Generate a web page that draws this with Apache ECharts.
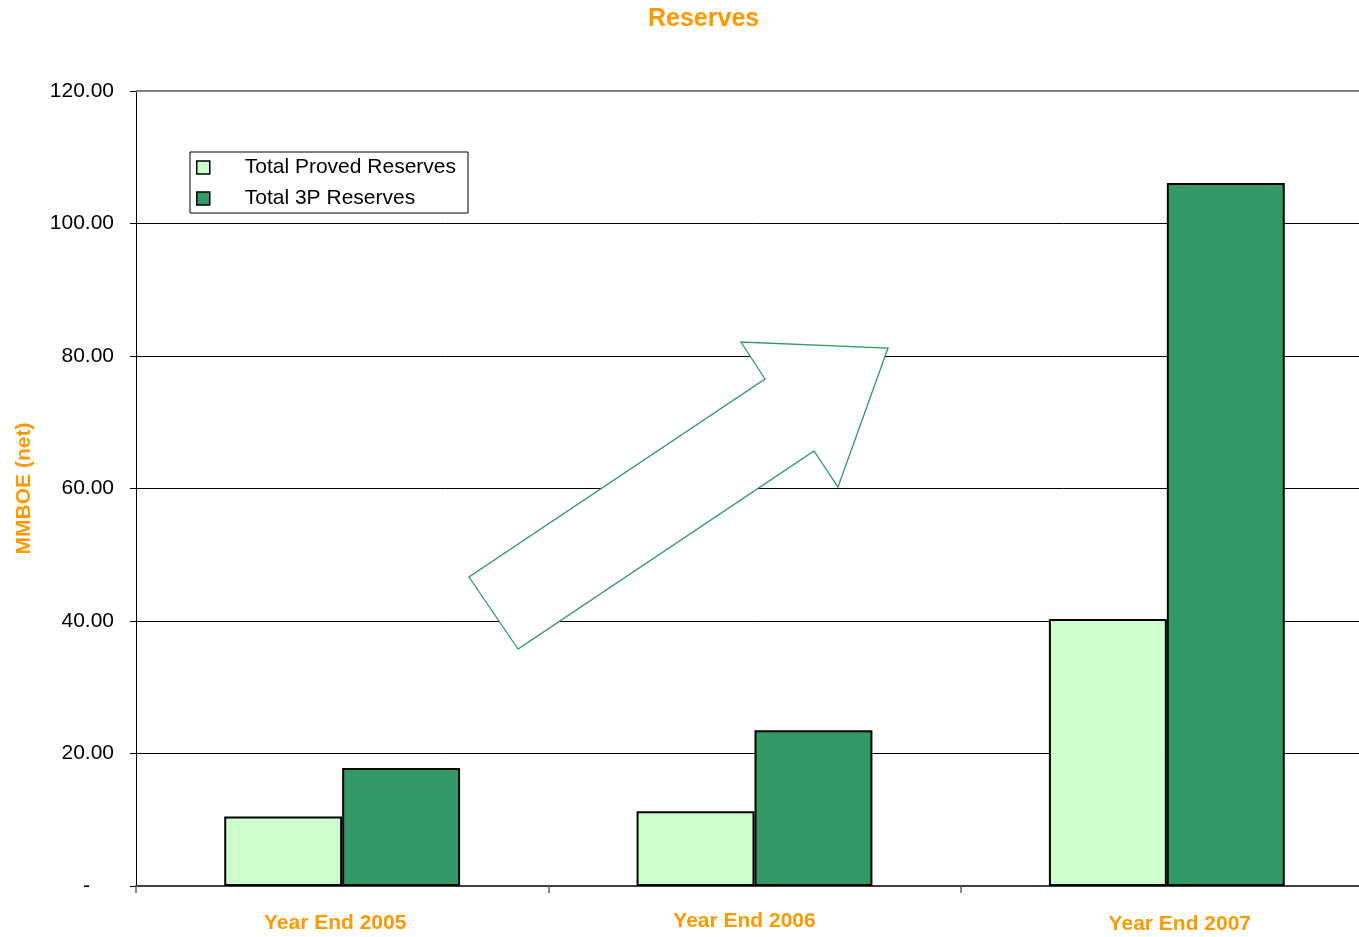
<!DOCTYPE html>
<html>
<head>
<meta charset="utf-8">
<script src="https://cdn.jsdelivr.net/npm/echarts@6/dist/echarts.min.js"></script>
<style>html,body{margin:0;padding:0;background:#fff;overflow:hidden;width:1359px;height:937px;}#c{width:1373px;height:937px;}</style>
</head>
<body>
<div id="c"></div>
<script>
var categories = ['Year End 2005', 'Year End 2006', 'Year End 2007'];
var provedReserves = [10.5, 11.3, 40.3];
var threePReserves = [17.8, 23.5, 106.1];
var seriesNames = ['Total Proved Reserves', 'Total 3P Reserves'];
var yTicks = [0, 20, 40, 60, 80, 100, 120];

var chart = echarts.init(document.getElementById('c'), null, {renderer: 'canvas'});
var font = '"Liberation Sans", Arial, sans-serif';
var orange = '#FF9900';

// small per-label offsets seen in the original layout
var labelPads = [[2, 14, 0, 0], [0, 20, 0, 0], [3, 0, 0, 26]];
var xData = categories.map(function (c, i) {
  return {value: c, textStyle: {padding: labelPads[i]}};
});

chart.setOption({
  animation: false,
  backgroundColor: '#fff',
  title: {
    text: 'Reserves', left: 643, top: 2,
    textStyle: {color: orange, fontFamily: font, fontWeight: 'bold', fontSize: 25}
  },
  legend: {
    orient: 'vertical', left: 190, top: 152,
    padding: [5, 12, 4, 6],
    itemGap: 10,
    itemWidth: 13, itemHeight: 13,
    backgroundColor: '#fff', borderColor: '#000', borderWidth: 1,
    icon: 'rect',
    itemStyle: {borderColor: '#000', borderWidth: 1.5},
    textStyle: {fontFamily: font, fontSize: 21, color: '#000', padding: [0, 0, 0, 30]},
    data: seriesNames
  },
  grid: {left: 136, top: 91, right: 0, bottom: 51, containLabel: false},
  xAxis: {
    type: 'category', data: xData,
    axisLine: {lineStyle: {color: '#404040', width: 2}},
    axisTick: {show: true, length: 7, lineStyle: {color: '#606060', width: 1.5}},
    axisLabel: {margin: 25, fontFamily: font, fontSize: 21, fontWeight: 'bold', color: orange}
  },
  yAxis: {
    type: 'value', min: yTicks[0], max: yTicks[yTicks.length - 1], interval: 20,
    name: 'MMBOE (net)', nameLocation: 'middle', nameGap: 101, nameRotate: 90,
    nameTextStyle: {fontFamily: font, fontSize: 21, fontWeight: 'bold', color: orange},
    axisLine: {show: true, lineStyle: {color: '#000', width: 1}},
    axisTick: {show: true, length: 6, lineStyle: {color: '#000'}},
    splitLine: {show: true, lineStyle: {color: '#000', width: 1}},
    axisLabel: {
      margin: 22, fontFamily: font, fontSize: 21, color: '#000',
      formatter: function (v) { return v === 0 ? '{d|-}' : v.toFixed(2); },
      rich: {d: {fontFamily: font, fontSize: 21, color: '#000', padding: [0, 24, 0, 0]}}
    }
  },
  series: [
    {
      name: seriesNames[0], type: 'bar', data: provedReserves,
      barGap: '0%', barCategoryGap: '42.8%',
      itemStyle: {color: '#CCFFCC', borderColor: '#000', borderWidth: 2},
      markLine: {
        silent: true, symbol: 'none', label: {show: false},
        lineStyle: {color: '#808080', width: 2, type: 'solid'},
        data: [{yAxis: yTicks[yTicks.length - 1]}]
      }
    },
    {
      name: seriesNames[1], type: 'bar', data: threePReserves,
      barGap: '0%', barCategoryGap: '42.8%',
      itemStyle: {color: '#339966', borderColor: '#000', borderWidth: 2}
    }
  ],
  graphic: [{
    type: 'polygon', z: 1, silent: true,
    shape: {points: [[518, 649], [469, 577], [765, 379], [741, 342], [888, 348], [838, 487], [814, 451]]},
    style: {fill: '#fff', stroke: '#339966', lineWidth: 1.3}
  }]
});
</script>
</body>
</html>
